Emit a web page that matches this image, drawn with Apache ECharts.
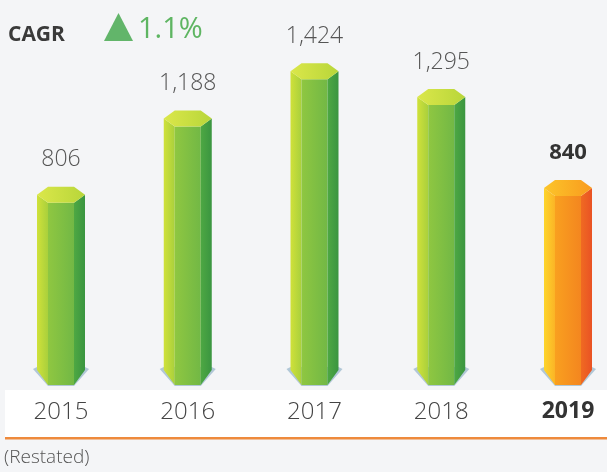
<!DOCTYPE html>
<html>
<head>
<meta charset="utf-8">
<script src="https://cdn.jsdelivr.net/npm/echarts@6/dist/echarts.min.js"></script>
<style>
  html, body { margin: 0; padding: 0; background: #f4f5f7; }
  #chart { width: 607px; height: 472px; }
</style>
</head>
<body>
<div id="chart"></div>
<script>
const years = ['2015', '2016', '2017', '2018', '2019'];
const values = [806, 1188, 1424, 1295, 840];
const highlightYear = '2019';
const cagrText = '1.1%';

const FONT = '"Open Sans", "Noto Sans", sans-serif';
const AXIS_MIN = -185; // bars are drawn down to the axis floor

const greenFaces = {
  top: ['#dbe74a', '#b8d63a'],
  left: ['#d0e13a', '#a9d03c'],
  front: ['#8fc741', '#72b845'],
  right: ['#4ea843', '#3a9540']
};
const orangeFaces = {
  top: ['#fcc52a', '#f99b1e'],
  left: ['#fdd52b', '#fbb426'],
  front: ['#f9a01f', '#f4861f'],
  right: ['#f06a22', '#e95224']
};

function grad(c) {
  return new echarts.graphic.LinearGradient(0, 0, 1, 0, [
    { offset: 0, color: c[0] },
    { offset: 1, color: c[1] }
  ]);
}

const chart = echarts.init(document.getElementById('chart'));

function renderPrism(params, api) {
  const i = api.value(0);
  const v = api.value(1);
  const top = api.coord([i, v]);
  const floor = api.coord([i, AXIS_MIN]);
  const x = top[0], y0 = top[1], yb = floor[1];
  const hw = 24, iw = 13; // half widths
  const isHi = years[i] === highlightYear;
  const f = isHi ? orangeFaces : greenFaces;

  return {
    type: 'group',
    children: [
      { // soft bluish shadow at the foot
        type: 'polygon',
        shape: { points: [[x - hw - 4, yb - 16], [x - iw, yb + 1], [x + iw, yb + 1], [x + hw + 4, yb - 16], [x + hw, yb - 18], [x - hw, yb - 18]] },
        style: { fill: 'rgba(95,145,175,0.45)' }
      },
      {
        type: 'polygon',
        shape: { points: [[x - hw, y0 + 8], [x - iw, y0 + 16], [x - iw, yb], [x - hw, yb - 15]] },
        style: { fill: grad(f.left) }
      },
      {
        type: 'polygon',
        shape: { points: [[x - iw, y0 + 16], [x + iw, y0 + 16], [x + iw, yb], [x - iw, yb]] },
        style: { fill: grad(f.front) }
      },
      {
        type: 'polygon',
        shape: { points: [[x + iw, y0 + 16], [x + hw, y0 + 8], [x + hw, yb - 15], [x + iw, yb]] },
        style: { fill: grad(f.right) }
      },
      {
        type: 'polygon',
        shape: { points: [[x - iw, y0], [x + iw, y0], [x + hw, y0 + 8], [x + iw, y0 + 16], [x - iw, y0 + 16], [x - hw, y0 + 8]] },
        style: { fill: grad(f.top) }
      },
      {
        type: 'text',
        x: x,
        y: y0 - 27,
        style: {
          text: v.toLocaleString('en-US'),
          align: 'center',
          verticalAlign: 'middle',
          fontFamily: FONT,
          fontSize: isHi ? 22 : 23,
          fontWeight: isHi ? 'bold' : 300,
          fill: isHi ? '#333333' : '#555555'
        }
      }
    ]
  };
}

const option = {
  backgroundColor: '#f4f5f7',
  animation: false,
  graphic: [
    { type: 'rect', z: -10, shape: { x: 5, y: 390, width: 602, height: 47 }, style: { fill: '#ffffff' } },
    { type: 'rect', z: -10, shape: { x: 5, y: 437, width: 602, height: 2.5 }, style: { fill: '#ee8a3c' } },
    { type: 'text', left: 4, top: 448, style: { text: '(Restated)', fontFamily: FONT, fontSize: 19, fontWeight: 300, fill: '#555555' } },
    { type: 'text', left: 8, top: 25, style: { text: 'CAGR', fontFamily: FONT, fontSize: 21, fontWeight: 'bold', fill: '#3a3a3a' } },
    { type: 'polygon', shape: { points: [[104, 41], [118.5, 13], [133, 41]] }, style: { fill: '#62b56a' } },
    { type: 'text', left: 138, top: 15, style: { text: cagrText, fontFamily: FONT, fontSize: 29, fill: '#5eb562' } }
  ],
  grid: { left: 61, right: 39, top: 20, bottom: 87 },
  xAxis: {
    type: 'category',
    data: years,
    boundaryGap: false,
    axisLine: { show: false },
    axisTick: { show: false },
    axisLabel: {
      margin: 15,
      fontFamily: FONT,
      fontSize: 24,
      fontWeight: 300,
      color: '#444444',
      interval: 0,
      formatter: function (val) {
        return val === highlightYear ? '{b|' + val + '}' : val;
      },
      rich: {
        b: { fontFamily: FONT, fontSize: 23, fontWeight: 'bold', color: '#333333' }
      }
    }
  },
  yAxis: {
    type: 'value',
    min: AXIS_MIN,
    max: 1640,
    show: false,
    splitLine: { show: false }
  },
  series: [
    {
      type: 'custom',
      renderItem: renderPrism,
      encode: { x: 0, y: 1 },
      data: values.map(function (v, i) { return [i, v]; })
    }
  ]
};

chart.setOption(option);
</script>
</body>
</html>
